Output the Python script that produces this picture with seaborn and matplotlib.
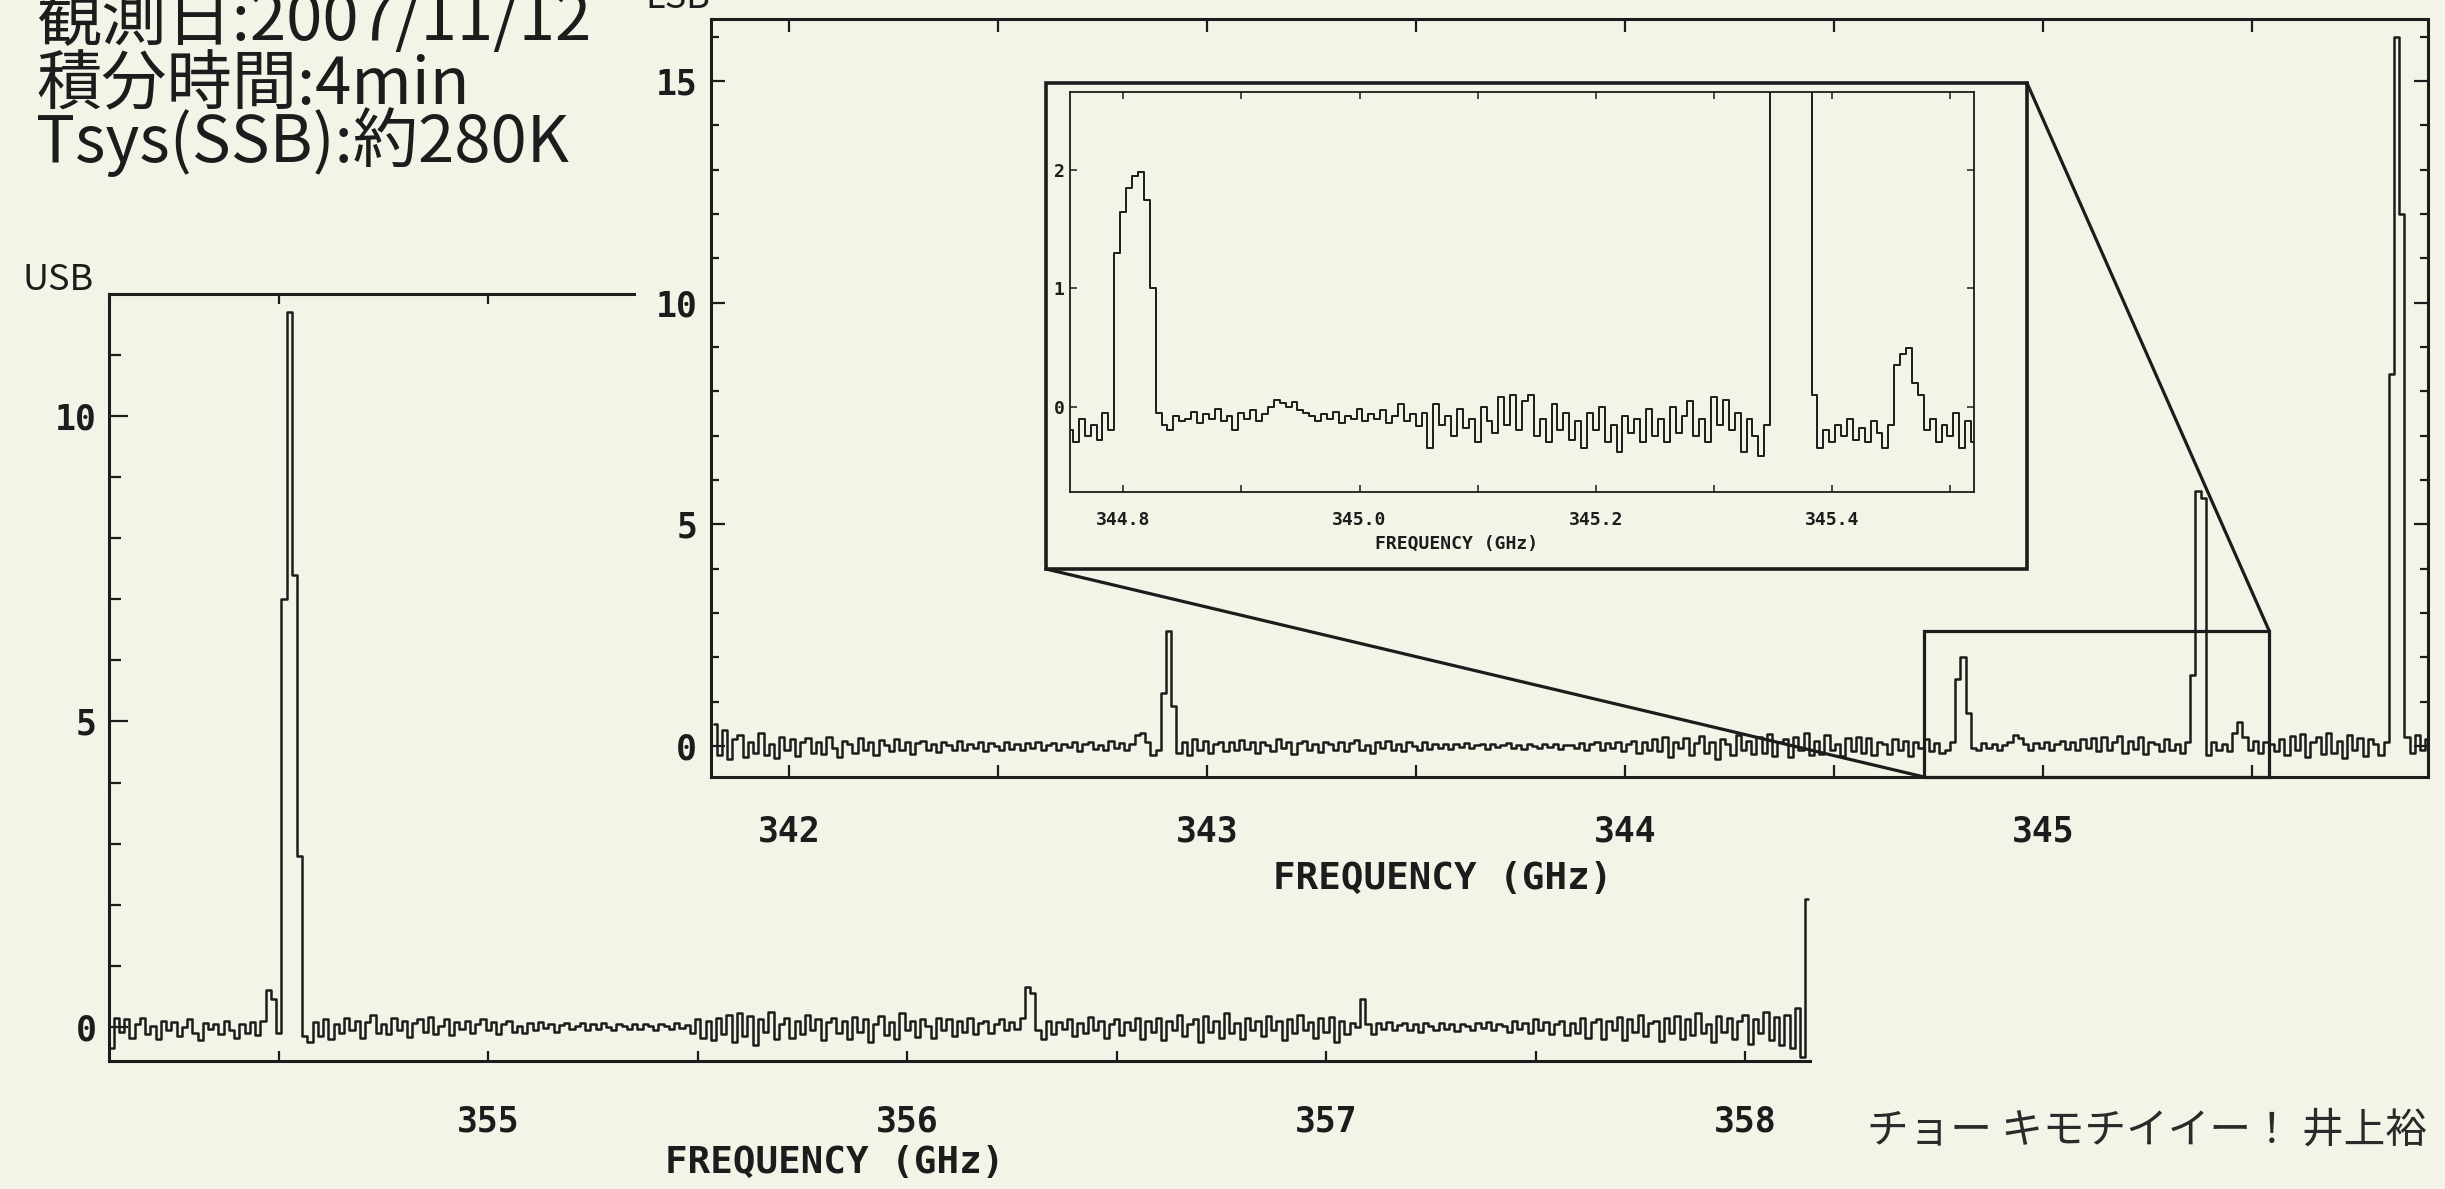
import numpy as np
import pandas as pd
import matplotlib
matplotlib.use("Agg")
import matplotlib.pyplot as plt
import seaborn as sns
from matplotlib.patches import Rectangle, ConnectionPatch

# ---------------------------------------------------------------- data
# USB spectrum: antenna temperature (K) per channel, channel grid start/step in GHz
usb_start_ghz = 354.10
usb_step_ghz = 0.0125
usb_ta = [
    -0.35, 0.15, -0.08, 0.12, -0.18, 0.05, 0.14, -0.12, 0.02, -0.20, 0.10, -0.05, 0.08, -0.15, 0.00, 0.12, -0.10, -0.22, 0.06, -0.04,
    0.05, -0.12, 0.10, -0.06, -0.18, 0.04, -0.10, 0.08, -0.14, 0.10, 0.60, 0.45, -0.10, 7.00, 11.70, 7.40, 2.80, -0.15, -0.25, 0.08,
    -0.15, 0.12, -0.20, 0.05, -0.10, 0.15, -0.05, 0.10, -0.18, 0.08, 0.20, -0.10, 0.04, -0.12, 0.14, -0.06, 0.10, -0.16, 0.06, 0.12,
    -0.08, 0.16, -0.12, 0.02, 0.12, -0.14, 0.08, -0.04, 0.10, -0.10, 0.05, 0.12, -0.06, 0.08, -0.12, 0.04, 0.10, -0.08, 0.02, -0.10,
    0.06, -0.05, 0.08, -0.02, 0.05, -0.08, 0.03, 0.06, -0.04, 0.02, 0.07, -0.05, 0.04, -0.03, 0.06, 0.00, -0.06, 0.05, 0.02, -0.04,
    0.05, -0.03, 0.04, 0.01, -0.06, 0.05, 0.02, -0.04, 0.06, -0.02, 0.03, -0.10, 0.12, -0.18, 0.10, -0.22, 0.15, -0.12, 0.20, -0.25,
    0.22, -0.15, 0.18, -0.30, 0.12, -0.08, 0.25, -0.20, 0.05, 0.15, -0.18, 0.10, -0.12, 0.20, -0.05, 0.12, -0.22, 0.08, 0.14, -0.10,
    0.10, -0.20, 0.16, -0.08, 0.12, -0.25, 0.05, 0.18, -0.14, 0.08, -0.20, 0.22, -0.06, 0.10, -0.16, 0.12, 0.02, -0.18, 0.15, -0.05,
    0.12, -0.15, 0.10, -0.08, 0.14, -0.12, 0.06, 0.10, -0.10, 0.04, 0.12, -0.06, 0.08, -0.04, 0.15, 0.65, 0.55, -0.05, -0.20, 0.10,
    -0.12, 0.08, -0.04, 0.12, -0.15, 0.06, -0.10, 0.16, -0.06, 0.10, -0.18, 0.05, 0.12, -0.14, 0.08, -0.05, 0.14, -0.20, 0.10, -0.08,
    0.15, -0.22, 0.10, -0.06, 0.20, -0.15, 0.05, 0.12, -0.25, 0.18, -0.08, 0.10, -0.18, 0.22, -0.10, 0.06, -0.20, 0.14, -0.05, 0.10,
    -0.15, 0.18, -0.06, 0.10, -0.22, 0.12, -0.10, 0.20, -0.05, 0.08, -0.18, 0.14, -0.08, 0.16, -0.25, 0.10, -0.12, 0.06, 0.00, 0.45,
    0.05, -0.12, 0.06, -0.04, 0.08, -0.06, 0.03, 0.07, -0.05, 0.04, -0.08, 0.06, 0.02, -0.05, 0.07, -0.03, 0.05, -0.07, 0.04, 0.02,
    -0.05, 0.06, -0.02, 0.08, -0.06, 0.04, 0.02, -0.08, 0.10, -0.04, 0.06, -0.10, 0.12, -0.06, 0.08, -0.12, 0.04, 0.10, -0.14, 0.06,
    -0.10, 0.14, -0.18, 0.08, 0.12, -0.20, 0.10, -0.06, 0.16, -0.22, 0.12, -0.08, 0.20, -0.15, 0.06, 0.10, -0.24, 0.15, -0.10, 0.18,
    -0.20, 0.12, -0.14, 0.22, -0.10, 0.05, -0.25, 0.18, -0.08, 0.15, -0.20, 0.10, 0.20, -0.28, 0.12, -0.10, 0.24, -0.22, 0.16, -0.30,
    0.20, -0.35, 0.30, -0.50, 2.10,
]

# LSB spectrum
lsb_start_ghz = 341.82
lsb_step_ghz = 0.0125
lsb_ta = [
    0.50, -0.20, 0.35, -0.30, 0.15, 0.25, -0.25, 0.10, -0.15, 0.30, -0.20, 0.05, -0.28, 0.20, -0.10, 0.15, -0.22, 0.08, 0.18, -0.15,
    0.10, -0.18, 0.20, -0.05, -0.25, 0.12, 0.05, -0.15, 0.18, -0.10, 0.08, -0.20, 0.14, 0.02, -0.12, 0.16, -0.08, 0.10, -0.18, 0.06,
    0.12, -0.10, 0.04, -0.14, 0.10, 0.02, -0.08, 0.12, -0.10, 0.05, -0.04, 0.08, -0.12, 0.06, 0.00, -0.08, 0.10, -0.06, 0.04, -0.10,
    0.06, -0.05, 0.10, -0.08, 0.03, 0.07, -0.10, 0.05, -0.02, 0.08, -0.12, 0.04, 0.10, -0.06, 0.02, -0.10, 0.12, -0.04, 0.06, -0.08,
    0.05, 0.25, 0.30, 0.10, -0.20, -0.10, 1.20, 2.60, 0.90, -0.15, 0.10, -0.20, 0.15, -0.08, 0.12, -0.15, 0.05, 0.10, -0.12, 0.08,
    -0.10, 0.14, -0.06, 0.10, -0.15, 0.08, 0.02, -0.12, 0.16, -0.05, 0.10, -0.18, 0.06, 0.12, -0.10, 0.04, -0.14, 0.10, 0.05, -0.08,
    0.10, -0.12, 0.06, 0.14, -0.10, 0.02, -0.16, 0.10, -0.04, 0.12, -0.08, 0.05, -0.12, 0.10, 0.00, -0.10, 0.08, -0.06, 0.04, -0.05,
    0.04, -0.06, 0.05, -0.02, 0.06, -0.05, 0.02, 0.04, -0.06, 0.05, -0.03, 0.02, 0.06, -0.04, 0.03, -0.06, 0.04, 0.01, -0.05, 0.04,
    -0.03, 0.05, -0.06, 0.03, 0.02, -0.05, 0.06, -0.08, 0.04, 0.08, -0.10, 0.06, -0.04, 0.10, -0.12, 0.05, 0.12, -0.15, 0.08, -0.10,
    0.15, -0.12, 0.20, -0.25, 0.10, -0.05, 0.18, -0.20, 0.06, 0.22, -0.15, 0.10, -0.30, 0.15, 0.05, -0.20, 0.25, -0.10, 0.12, -0.18,
    0.20, -0.15, 0.28, -0.22, 0.10, 0.15, -0.25, 0.20, -0.08, 0.30, -0.20, 0.12, -0.18, 0.25, -0.10, 0.05, -0.22, 0.18, -0.12, 0.20,
    -0.15, 0.18, -0.20, 0.10, 0.05, -0.18, 0.15, -0.10, 0.12, -0.22, 0.08, -0.05, 0.15, -0.12, 0.06, -0.15, -0.08, 0.10, 1.50, 2.00,
    0.75, -0.05, -0.10, 0.06, -0.05, 0.04, -0.08, 0.02, 0.10, 0.25, 0.18, 0.05, -0.08, 0.06, -0.05, 0.08, -0.10, 0.05, 0.12, -0.06,
    0.10, -0.08, 0.15, -0.05, 0.18, -0.12, 0.20, -0.10, 0.08, 0.22, -0.15, 0.12, -0.06, 0.20, -0.18, 0.10, 0.05, -0.12, 0.15, -0.10,
    0.05, -0.15, 0.10, 1.60, 5.75, 5.60, -0.20, 0.08, -0.10, 0.05, -0.12, 0.30, 0.55, 0.20, -0.08, 0.12, -0.15, 0.10, 0.05, -0.12,
    0.15, -0.20, 0.22, -0.10, 0.28, -0.25, 0.10, 0.20, -0.18, 0.30, -0.15, 0.12, -0.28, 0.25, -0.10, 0.18, -0.22, 0.15, 0.05, -0.20,
    0.10, 8.40, 16.00, 12.00, 0.20, -0.15, 0.25, -0.10, 0.15,
]

# Inset (zoom of LSB 344.75-345.52 GHz)
inset_start_ghz = 344.755
inset_step_ghz = 0.005
inset_ta = [
    -0.20, -0.30, -0.10, -0.25, -0.15, -0.28, -0.05, -0.20, 1.30, 1.65, 1.85, 1.95, 1.98, 1.75, 1.00, -0.05, -0.15, -0.20, -0.08, -0.12,
    -0.10, -0.04, -0.14, -0.06, -0.10, -0.02, -0.12, -0.08, -0.20, -0.05, -0.10, -0.03, -0.12, -0.06, 0.00, 0.06, 0.03, 0.00, 0.04, -0.03,
    -0.05, -0.08, -0.12, -0.06, -0.10, -0.04, -0.14, -0.08, -0.10, -0.02, -0.12, -0.06, -0.10, -0.03, -0.14, -0.08, 0.02, -0.12, -0.06, -0.16,
    -0.05, -0.35, 0.02, -0.15, -0.08, -0.25, -0.02, -0.18, -0.10, -0.30, 0.00, -0.12, -0.22, 0.08, -0.15, 0.10, -0.20, 0.05, 0.10, -0.25,
    -0.10, -0.30, 0.02, -0.20, -0.05, -0.28, -0.12, -0.35, -0.05, -0.20, 0.00, -0.30, -0.15, -0.38, -0.08, -0.22, -0.10, -0.30, -0.02, -0.25,
    -0.10, -0.30, 0.00, -0.22, -0.08, 0.05, -0.25, -0.10, -0.30, 0.08, -0.15, 0.06, -0.20, -0.05, -0.38, -0.10, -0.25, -0.42, -0.15, 3.50,
    5.70, 5.70, 5.70, 5.70, 5.70, 5.70, 0.10, -0.35, -0.20, -0.30, -0.15, -0.25, -0.10, -0.28, -0.18, -0.30, -0.12, -0.22, -0.35, -0.15,
    0.35, 0.45, 0.50, 0.20, 0.10, -0.20, -0.10, -0.30, -0.15, -0.25, -0.05, -0.35, -0.12, -0.30,
]

# axis ranges and ticks
usb_xlim = (354.095, 358.155)
usb_ylim = (-0.56, 12.0)
lsb_xlim = (341.813, 345.92)
lsb_ylim = (-0.70, 16.4)
inset_xlim = (344.755, 345.52)
inset_ylim = (-0.72, 2.66)
zoom_box_freq = (344.715, 345.54)
zoom_box_top = 2.6

usb_xticks = [355, 356, 357, 358]
usb_xticklabels = ["355", "356", "357", "358"]
usb_xminor = [354.5, 355.5, 356.5, 357.5]
usb_yticks = [0, 5, 10]
usb_yticklabels = ["0", "5", "10"]
usb_yminor = list(range(0, 12))

lsb_xticks = [342, 343, 344, 345]
lsb_xticklabels = ["342", "343", "344", "345"]
lsb_xminor = [342.5, 343.5, 344.5, 345.5]
lsb_yticks = [0, 5, 10, 15]
lsb_yticklabels = ["0", "5", "10", "15"]
lsb_yminor = list(range(0, 17))

inset_xticks = [344.8, 345.0, 345.2, 345.4]
inset_xticklabels = ["344.8", "345.0", "345.2", "345.4"]
inset_xminor = [344.9, 345.1, 345.3, 345.5]
inset_yticks = [0, 1, 2]
inset_yticklabels = ["0", "1", "2"]

header_lines = ["観測日:2007/11/12", "積分時間:4min", "Tsys(SSB):約280K"]
usb_label = "USB"
lsb_label = "LSB"
freq_label = "FREQUENCY (GHz)"
signature = "チョー キモチイイー！ 井上裕"

# ---------------------------------------------------------------- style
PAPER = "#f3f3e8"
INK = "#1c1c1c"
MONO = "DejaVu Sans Mono"
JP = "Noto Sans CJK JP"

sns.set_style("ticks")
plt.rcParams["font.family"] = [MONO, JP]
plt.rcParams["axes.edgecolor"] = INK


def spectrum_frame(start, step, values):
    n = len(values)
    return pd.DataFrame({"freq": start + step * np.arange(n), "ta": values})


df_usb = spectrum_frame(usb_start_ghz, usb_step_ghz, usb_ta)
df_lsb = spectrum_frame(lsb_start_ghz, lsb_step_ghz, lsb_ta)
df_ins = spectrum_frame(inset_start_ghz, inset_step_ghz, inset_ta)

W, H = 2445, 1189
fig = plt.figure(figsize=(W / 100, H / 100), dpi=100, facecolor=PAPER)


def fx(px):
    return px / W


def fy(py):
    return 1 - py / H


tick_font = dict(fontsize=25, fontweight="bold", family=MONO, color=INK)

# ---------------- USB (lower-left) axes
ax_usb = fig.add_axes([fx(109), fy(1061), fx(1810) - fx(109), fy(294) - fy(1061)], zorder=0)
ax_usb.set_facecolor(PAPER)
sns.lineplot(data=df_usb, x="freq", y="ta", ax=ax_usb, color=INK, lw=1.8,
             drawstyle="steps-mid", estimator=None)
ax_usb.set_xlim(*usb_xlim)
ax_usb.set_ylim(*usb_ylim)
ax_usb.set_xticks(usb_xticks, usb_xticklabels, **tick_font)
ax_usb.set_xticks(usb_xminor, minor=True)
ax_usb.set_yticks(usb_yticks, usb_yticklabels, **tick_font)
ax_usb.set_yticks(usb_yminor, minor=True)
ax_usb.spines["right"].set_visible(False)
for s in ax_usb.spines.values():
    s.set_linewidth(2.2)
ax_usb.tick_params(which="both", direction="in", top=True, right=False, width=1.6, color=INK)
ax_usb.tick_params(axis="x", which="both", length=7, pad=31)
ax_usb.tick_params(axis="y", which="major", length=14, pad=9)
ax_usb.tick_params(axis="y", which="minor", length=8.5)
ax_usb.set_ylabel("")
ax_usb.set_xlabel(freq_label, fontsize=27, fontweight="bold", family=MONO, color=INK)
ax_usb.xaxis.set_label_coords(0.4268, -0.133)
ax_usb.xaxis.label.set_va("center")

# cover so that the USB top frame ends before the LSB tick labels
cover = Rectangle((fx(636), fy(777)), fx(711) - fx(636), fy(19) - fy(777),
                  transform=fig.transFigure, facecolor=PAPER, edgecolor="none", zorder=1)
fig.add_artist(cover)

# ---------------- LSB (upper-right) axes
ax_lsb = fig.add_axes([fx(711), fy(777), fx(2428) - fx(711), fy(19) - fy(777)], zorder=2)
ax_lsb.set_facecolor(PAPER)
sns.lineplot(data=df_lsb, x="freq", y="ta", ax=ax_lsb, color=INK, lw=1.8,
             drawstyle="steps-mid", estimator=None)
ax_lsb.set_xlim(*lsb_xlim)
ax_lsb.set_ylim(*lsb_ylim)
ax_lsb.set_xticks(lsb_xticks, lsb_xticklabels, **tick_font)
ax_lsb.set_xticks(lsb_xminor, minor=True)
ax_lsb.set_yticks(lsb_yticks, lsb_yticklabels, **tick_font)
ax_lsb.set_yticks(lsb_yminor, minor=True)
for s in ax_lsb.spines.values():
    s.set_linewidth(2.2)
ax_lsb.tick_params(which="both", direction="in", top=True, right=True, width=1.6, color=INK)
ax_lsb.tick_params(axis="x", which="both", length=9, pad=27)
ax_lsb.tick_params(axis="y", which="major", length=10, pad=10)
ax_lsb.tick_params(axis="y", which="minor", length=6)
ax_lsb.set_ylabel("")
ax_lsb.set_xlabel(freq_label, fontsize=27, fontweight="bold", family=MONO, color=INK)
ax_lsb.xaxis.set_label_coords(0.4263, -0.1346)
ax_lsb.xaxis.label.set_va("center")

# zoom box on LSB
box = Rectangle((zoom_box_freq[0], lsb_ylim[0]), zoom_box_freq[1] - zoom_box_freq[0],
                zoom_box_top - lsb_ylim[0], fill=False, edgecolor=INK, lw=2.3,
                clip_on=False, zorder=5)
ax_lsb.add_patch(box)

# ---------------- inset outer frame and connectors
outer = Rectangle((fx(1046), fy(569)), fx(2027) - fx(1046), fy(83) - fy(569),
                  transform=fig.transFigure, facecolor=PAPER, edgecolor=INK, lw=2.6, zorder=3)
fig.add_artist(outer)
con1 = ConnectionPatch(xyA=(fx(1046), fy(569)), coordsA="figure fraction",
                       xyB=(zoom_box_freq[0], lsb_ylim[0]), coordsB="data", axesB=ax_lsb,
                       color=INK, lw=2.3, zorder=3.5)
con2 = ConnectionPatch(xyA=(fx(2027), fy(83)), coordsA="figure fraction",
                       xyB=(zoom_box_freq[1], zoom_box_top), coordsB="data", axesB=ax_lsb,
                       color=INK, lw=2.3, zorder=3.5)
fig.add_artist(con1)
fig.add_artist(con2)

# ---------------- inset axes
ax_ins = fig.add_axes([fx(1070), fy(492), fx(1974) - fx(1070), fy(92) - fy(492)], zorder=4)
ax_ins.set_facecolor(PAPER)
sns.lineplot(data=df_ins, x="freq", y="ta", ax=ax_ins, color=INK, lw=1.4,
             drawstyle="steps-mid", estimator=None)
ax_ins.set_xlim(*inset_xlim)
ax_ins.set_ylim(*inset_ylim)
small_font = dict(fontsize=13, fontweight="bold", family=MONO, color=INK)
ax_ins.set_xticks(inset_xticks, inset_xticklabels, **small_font)
ax_ins.set_xticks(inset_xminor, minor=True)
ax_ins.set_yticks(inset_yticks, inset_yticklabels, **small_font)
for s in ax_ins.spines.values():
    s.set_linewidth(1.3)
ax_ins.tick_params(which="both", direction="in", top=True, right=True, width=1.1,
                   length=5, color=INK)
ax_ins.tick_params(axis="x", which="both", pad=14)
ax_ins.tick_params(axis="y", which="both", pad=4)
ax_ins.set_ylabel("")
ax_ins.set_xlabel(freq_label, fontsize=13, fontweight="bold", family=MONO, color=INK)
ax_ins.xaxis.set_label_coords(0.428, -0.129)
ax_ins.xaxis.label.set_va("center")

# ---------------- texts
header_baselines = [40, 104, 162]
for line, yb in zip(header_lines, header_baselines):
    fig.text(fx(36), fy(yb), line, fontsize=47, family=JP, va="baseline", color=INK, zorder=6)

fig.text(fx(23), fy(290), usb_label, fontsize=26, family=JP, va="baseline", color=INK, zorder=6)
fig.text(fx(645), fy(8), lsb_label, fontsize=26, family=JP, va="baseline", color=INK, zorder=6)
fig.text(fx(1867), fy(1131), signature, fontsize=30, family=JP, va="center", color="#2a2a2a", zorder=6)

fig.savefig("out.png", dpi=100, facecolor=PAPER)
